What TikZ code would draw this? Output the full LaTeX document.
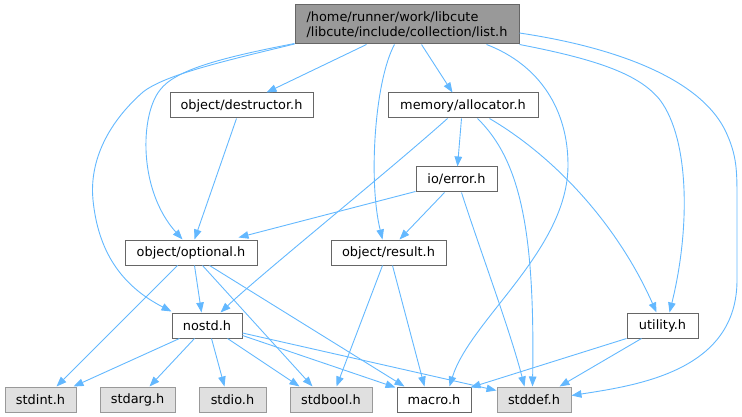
\documentclass[tikz,border=0pt]{standalone}
\usepackage{fontspec}
\setmainfont{DejaVu Sans}
\usetikzlibrary{arrows.meta}
\definecolor{edgeblue}{HTML}{63B8FF}
\definecolor{rootfill}{HTML}{999999}
\definecolor{rootdraw}{HTML}{666666}
\definecolor{hdrdraw}{HTML}{666666}
\definecolor{sysfill}{HTML}{E0E0E0}
\definecolor{sysdraw}{HTML}{999999}
\begin{document}
\begin{tikzpicture}[x=1pt,y=-1pt,
  box/.style={draw, line width=1pt, inner sep=0pt, minimum height=25pt,
    font=\fontsize{12.9}{15.5}\selectfont, text=black},
  hdr/.style={box, draw=hdrdraw, fill=white},
  sys/.style={box, draw=sysdraw, fill=sysfill},
  rootbox/.style={box, draw=rootdraw, fill=rootfill, align=left, minimum height=39pt},
  edge/.style={draw=edgeblue, line width=0.9pt,
    -{Triangle[length=10pt,width=7.5pt]}, fill=none}]
\useasboundingbox (0,0) rectangle (742,417);
% nodes
\node[rootbox, minimum width=224pt] (list) at (407,24.5) {/home/runner/work/libcute\\/libcute/include/collection/list.h};
\node[hdr, minimum width=143pt] (dest) at (241.5,105.5) {object/destructor.h};
\node[hdr, minimum width=150pt] (alloc) at (463,105.5) {memory/allocator.h};
\node[hdr, minimum width=81pt] (error) at (456.5,179.5) {io/error.h};
\node[hdr, minimum width=132pt] (optional) at (191,252.5) {object/optional.h};
\node[hdr, minimum width=115pt] (result) at (388.5,252.5) {object/result.h};
\node[hdr, minimum width=70pt] (nostd) at (207,325.5) {nostd.h};
\node[hdr, minimum width=71pt] (utility) at (662.5,325.5) {utility.h};
\node[sys, minimum width=71pt] (stdint) at (40.5,399.5) {stdint.h};
\node[sys, minimum width=75pt] (stdarg) at (137.5,399.5) {stdarg.h};
\node[sys, minimum width=67pt] (stdio) at (232.5,399.5) {stdio.h};
\node[sys, minimum width=82pt] (stdbool) at (331,399.5) {stdbool.h};
\node[hdr, minimum width=74pt] (macro) at (434,399.5) {macro.h};
\node[sys, minimum width=74pt] (stddef) at (534,399.5) {stddef.h};
% edges from list.h
\draw[edge] ([xshift=72pt]list.south west) -- ([xshift=97pt]dest.north west);
\draw[edge] ([xshift=127pt]list.south west) -- ([xshift=65pt]alloc.north west);
\draw[edge] ([xshift=100pt]list.south west) .. controls (375,80) and (368,180) .. ([xshift=52pt]result.north west);
\draw[edge] ([yshift=1pt]list.south west) .. controls (220,58) and (175,70) .. (160,90)
  .. controls (140,115) and (138,190) .. ([xshift=58pt]optional.north west);
\draw[edge] ([yshift=0.5pt]list.south west) .. controls (220,62) and (165,75) .. (143,92)
  .. controls (100,130) and (90,170) .. (93,200)
  .. controls (98,250) and (120,285) .. ([yshift=1pt]nostd.north west);
\draw[edge] ([xshift=192pt]list.south west) .. controls (540,65) and (568,110) .. (568,165)
  .. controls (568,250) and (470,320) .. ([xshift=53pt]macro.north west);
\draw[edge] (list.south east) .. controls (600,60) and (640,75) .. (660,100)
  .. controls (690,140) and (690,230) .. ([xshift=43pt]utility.north west);
\draw[edge] ([yshift=-8.5pt]list.east) .. controls (620,48) and (700,80) .. (725,130)
  .. controls (737,155) and (737,170) .. (737,200) -- (737,280)
  .. controls (737,370) and (640,385) .. ([yshift=4pt]stddef.east);
% edges from memory/allocator.h
\draw[edge] ([xshift=74pt]alloc.south west) -- ([xshift=42pt]error.north west);
\draw[edge] ([xshift=60pt]alloc.south west) .. controls (390,170) and (260,275) .. ([xshift=-22pt]nostd.north east);
\draw[edge] ([xshift=90pt]alloc.south west) .. controls (520,160) and (535,230) .. ([xshift=36pt]stddef.north west);
\draw[edge] ([xshift=102pt]alloc.south west) .. controls (560,160) and (620,230) .. ([xshift=30pt]utility.north west);
% object/destructor.h
\draw[edge] ([xshift=67pt]dest.south west) -- ([xshift=70pt]optional.north west);
% io/error.h
\draw[edge] ([yshift=1pt]error.south west) -- ([xshift=-19pt,yshift=2pt]optional.north east);
\draw[edge] ([xshift=29pt]error.south west) -- ([xshift=69pt]result.north west);
\draw[edge] ([xshift=46pt]error.south west) .. controls (480,250) and (510,330) .. ([xshift=28pt]stddef.north west);
% object/optional.h
\draw[edge] ([xshift=53pt]optional.south west) -- ([xshift=52pt]stdint.north west);
\draw[edge] ([xshift=70pt]optional.south west) -- ([xshift=30pt]nostd.north west);
\draw[edge] ([xshift=78pt]optional.south west) -- ([xshift=23pt]stdbool.north west);
\draw[edge] ([xshift=85pt]optional.south west) -- ([xshift=8pt]macro.north west);
% object/result.h
\draw[edge] ([xshift=52pt]result.south west) -- ([xshift=47pt]stdbool.north west);
\draw[edge] ([xshift=62pt]result.south west) -- ([xshift=28pt]macro.north west);
% nostd.h
\draw[edge] ([xshift=8pt]nostd.south west) -- ([xshift=-3pt]stdint.north east);
\draw[edge] ([xshift=23pt]nostd.south west) -- ([xshift=50pt]stdarg.north west);
\draw[edge] ([xshift=40pt]nostd.south west) -- ([xshift=26pt]stdio.north west);
\draw[edge] ([xshift=56pt]nostd.south west) -- ([xshift=10pt]stdbool.north west);
\draw[edge] ([yshift=3pt]nostd.south east) -- ([xshift=-1pt,yshift=-1pt]macro.north west);
\draw[edge] ([yshift=5.5pt]nostd.south east) -- ([yshift=-4pt]stddef.north west);
% utility.h
\draw[edge] (utility.south west) -- ([xshift=-1pt,yshift=-1pt]macro.north east);
\draw[edge] ([xshift=15pt]utility.south west) -- ([xshift=63pt]stddef.north west);
\end{tikzpicture}
\end{document}
